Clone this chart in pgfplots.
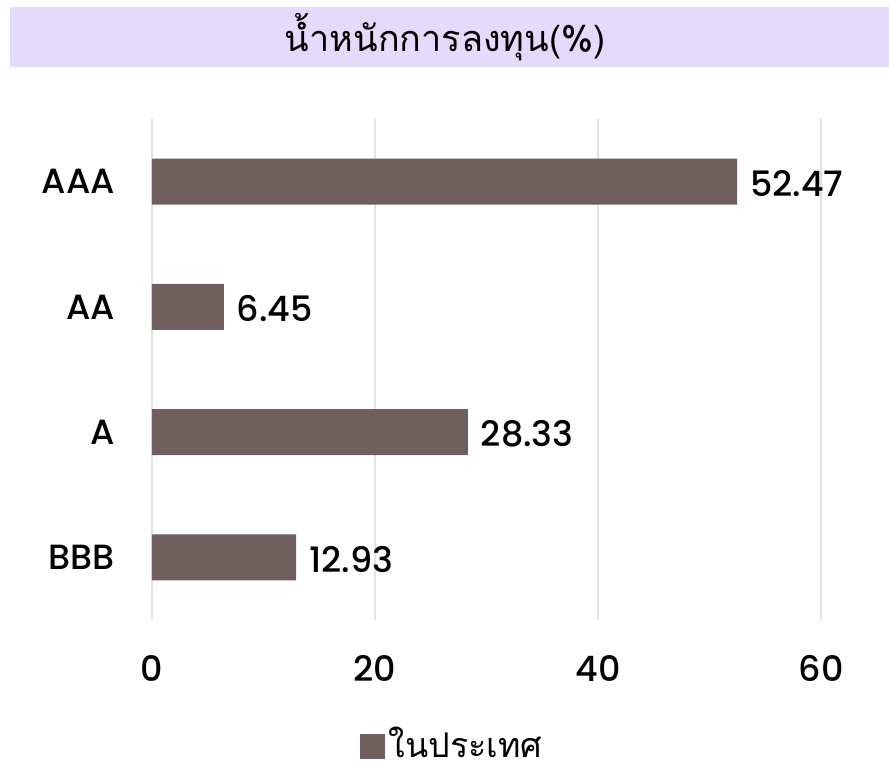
\documentclass[border=0pt]{standalone}
\usepackage{fontspec}
\setmainfont{Poppins}
\newfontfamily\medfont{Poppins Medium}
\newfontfamily\thaifont[Script=Thai]{Loma}
\usepackage{pgfplots}
\pgfplotsset{compat=1.18}
\definecolor{barbrown}{HTML}{6F605F}
\definecolor{titlebg}{HTML}{E4DAFC}
\definecolor{gridc}{HTML}{E6E0E0}
\begin{document}
\begin{tikzpicture}[x=1pt,y=1pt]
\path[use as bounding box] (-76,-77) rectangle (368.5,310);
\fill[titlebg] (-71,276.5) rectangle (368.5,306.5);
\node[font=\thaifont\fontsize{18}{21}\selectfont] at (146.5,291.5) {น้ำหนักการลงทุน(\%)};
\begin{axis}[
  at={(0,0)}, anchor=south west,
  scale only axis, width=334.5pt, height=250.5pt,
  xbar, bar width=23pt,
  xmin=0, xmax=60, ymin=-0.5, ymax=3.5,
  xtick={0,20,40,60}, ytick={0,1,2,3},
  yticklabels={BBB,A,AA,AAA},
  xmajorgrids, grid style={gridc, line width=0.8pt},
  axis line style={draw=none}, major tick length=0,
  clip=false,
  /pgf/number format/assume math mode=true,
  tick label style={font=\medfont\fontsize{17.5}{20}\selectfont},
  xticklabel style={yshift=-14pt},
  yticklabel style={xshift=-15pt},
  nodes near coords,
  point meta=x,
  nodes near coords style={anchor=west, xshift=3pt, yshift=-1pt, text=black,
    font=\medfont\fontsize{17.5}{20}\selectfont,
    /pgf/number format/.cd, fixed, fixed zerofill, precision=2, assume math mode=true},
  legend style={at={(0.45,-0.247)}, anchor=center, draw=none, fill=none,
    font=\thaifont\fontsize{17}{20}\selectfont},
  legend image code/.code={\fill[barbrown] (0pt,-7.5pt) rectangle (12.5pt,5pt);},
]
\addplot[fill=barbrown, draw=none] coordinates {(12.93,0) (28.33,1) (6.45,2) (52.47,3)};
\addlegendentry{ในประเทศ}
\end{axis}
\end{tikzpicture}
\end{document}
